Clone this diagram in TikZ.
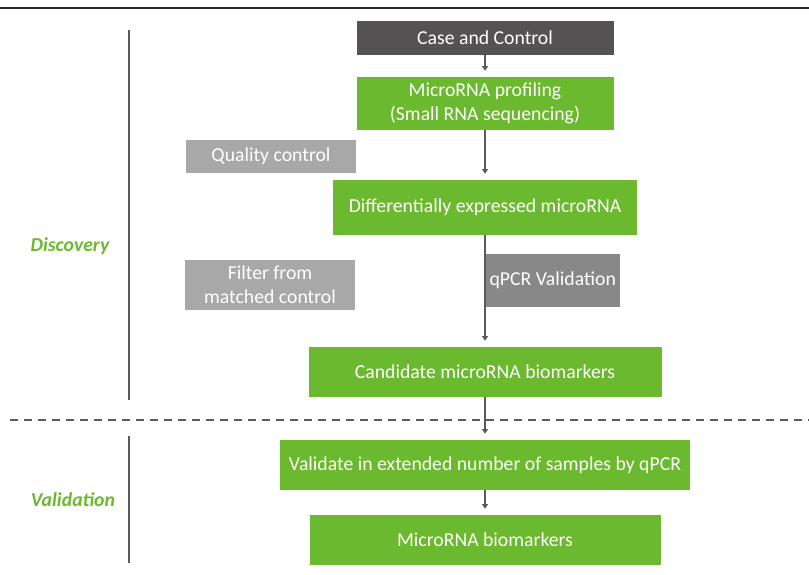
\documentclass[tikz,border=0pt]{standalone}
\usepackage{fontspec}
\setmainfont{Carlito}
\usetikzlibrary{arrows.meta}

\definecolor{leaf}{RGB}{107,185,46}
\definecolor{darkbox}{RGB}{84,82,82}
\definecolor{lightbox}{RGB}{168,168,168}
\definecolor{midbox}{RGB}{136,136,136}
\definecolor{rule}{RGB}{90,90,90}

\begin{document}
\begin{tikzpicture}[x=0.75pt,y=-0.75pt,
  box/.style={rectangle, text=white, align=center, inner sep=0pt,
    font=\fontsize{14.8}{18}\selectfont},
  greenbox/.style={box, fill=leaf},
  flow/.style={-{Triangle[width=4.5pt,length=3.5pt]}, draw=rule, line width=0.8pt, shorten >=4.5pt},
  phase/.style={text=leaf, font=\fontsize{14.8}{18}\selectfont\bfseries\itshape}]

\useasboundingbox (0,0) rectangle (809,574);

\draw [line width=1.1pt, black!85] (0,8) -- (809,8);
\draw [rule, line width=1pt, dash pattern=on 6pt off 4.5pt] (10,420) -- (809,420);

\draw [rule, line width=1.1pt] (129,30) -- (129,400);
\draw [rule, line width=1.1pt] (129,436) -- (129,563);

\node [phase] (disc) at (70,246) {Discovery};
\node [phase] (valph) at (73,500) {Validation};

\node [box, fill=darkbox, minimum width=192.75pt, minimum height=25.5pt] (case) at (485,38) {Case and Control};
\node [greenbox, minimum width=192.75pt, minimum height=39.75pt] (prof) at (485,103.5) {MicroRNA profiling\\(Small RNA sequencing)};
\node [box, fill=lightbox, minimum width=127.5pt, minimum height=24.75pt] (qc) at (271,156.5) {Quality control};
\node [greenbox, minimum width=228pt, minimum height=41.25pt] (diff) at (485,207.5) {Differentially expressed microRNA};
\node [box, fill=lightbox, minimum width=127.5pt, minimum height=37.5pt] (filt) at (270,285) {Filter from\\matched control};
\node [box, fill=midbox, minimum width=101.25pt, minimum height=39.75pt, anchor=west] (qpcr) at (485,280.5) {qPCR Validation};
\node [greenbox, minimum width=264.75pt, minimum height=37.5pt] (cand) at (485,372) {Candidate microRNA biomarkers};
\node [greenbox, minimum width=307.5pt, minimum height=37.5pt] (valid) at (485,465) {Validate in extended number of samples by qPCR};
\node [greenbox, minimum width=263.25pt, minimum height=37.5pt] (bio) at (485,540) {MicroRNA biomarkers};

\draw [flow] (case.south) -- (prof.north);
\draw [flow] (prof.south) -- (diff.north);
\draw [flow] (diff.south) -- (cand.north);
\draw [flow] (cand.south) -- (valid.north);
\draw [flow] (valid.south) -- (bio.north);

\end{tikzpicture}
\end{document}
